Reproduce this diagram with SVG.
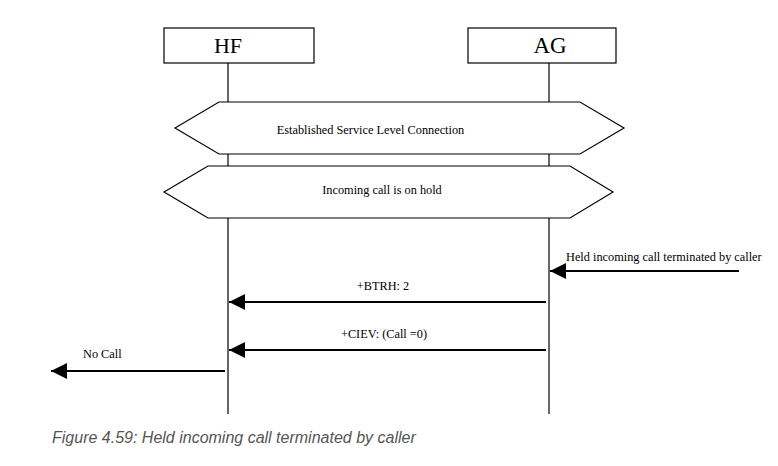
<svg xmlns="http://www.w3.org/2000/svg" width="778" height="466" viewBox="0 0 778 466">
<style>
.box{fill:#fff;stroke:#000;stroke-width:1.2}
.life{stroke:#000;stroke-width:1.2;fill:none}
.hex{fill:#fff;stroke:#000;stroke-width:1.2}
.msg{stroke:#000;stroke-width:1.8;fill:none}
.t{font-family:"Liberation Serif",serif;fill:#000}
.cap{font-family:"Liberation Sans",sans-serif;font-style:italic;font-size:16px;fill:#555}
</style>
<defs>
<marker id="ah" viewBox="0 0 16 16" refX="16" refY="8" markerWidth="16" markerHeight="16" markerUnits="userSpaceOnUse" orient="auto">
<path d="M0,0 L16,8 L0,16 Z" fill="#000"/>
</marker>
</defs>
<rect width="778" height="466" fill="#fff"/>
<g id="lifelines">
<line class="life" x1="228" y1="63" x2="228" y2="414"/>
<line class="life" x1="549" y1="63" x2="549" y2="414"/>
</g>
<g id="HF">
<rect class="box" x="164" y="28" width="150" height="35"/>
<text class="t" x="228" y="53" font-size="22" text-anchor="middle">HF</text>
</g>
<g id="AG">
<rect class="box" x="468" y="28" width="148" height="35"/>
<text class="t" x="550" y="53" font-size="23" text-anchor="middle">AG</text>
</g>
<g id="slc">
<polygon class="hex" points="175,128 219,102 580,102 624,128 580,154 219,154"/>
<text class="t" x="370.5" y="134" font-size="12.3" text-anchor="middle">Established Service Level Connection</text>
</g>
<g id="hold">
<polygon class="hex" points="164,192 208,166 570,166 613,192 570,218 208,218"/>
<text class="t" x="382" y="194" font-size="12.3" text-anchor="middle">Incoming call is on hold</text>
</g>
<g id="connectors">
<line class="msg" x1="739" y1="271" x2="550" y2="271" marker-end="url(#ah)"/>
<line class="msg" x1="546" y1="302" x2="229" y2="302" marker-end="url(#ah)"/>
<line class="msg" x1="546" y1="350" x2="229" y2="350" marker-end="url(#ah)"/>
<line class="msg" x1="225" y1="371" x2="51" y2="371" marker-end="url(#ah)"/>
</g>
<g id="labels">
<text class="t" x="566" y="261" font-size="12.3">Held incoming call terminated by caller</text>
<text class="t" x="383" y="290" font-size="12.3" text-anchor="middle">+BTRH: 2</text>
<text class="t" x="384" y="338" font-size="12.3" text-anchor="middle">+CIEV: (Call =0)</text>
<text class="t" x="83" y="358" font-size="12.3">No Call</text>
</g>
<text class="cap" x="52" y="443">Figure 4.59: Held incoming call terminated by caller</text>
</svg>
